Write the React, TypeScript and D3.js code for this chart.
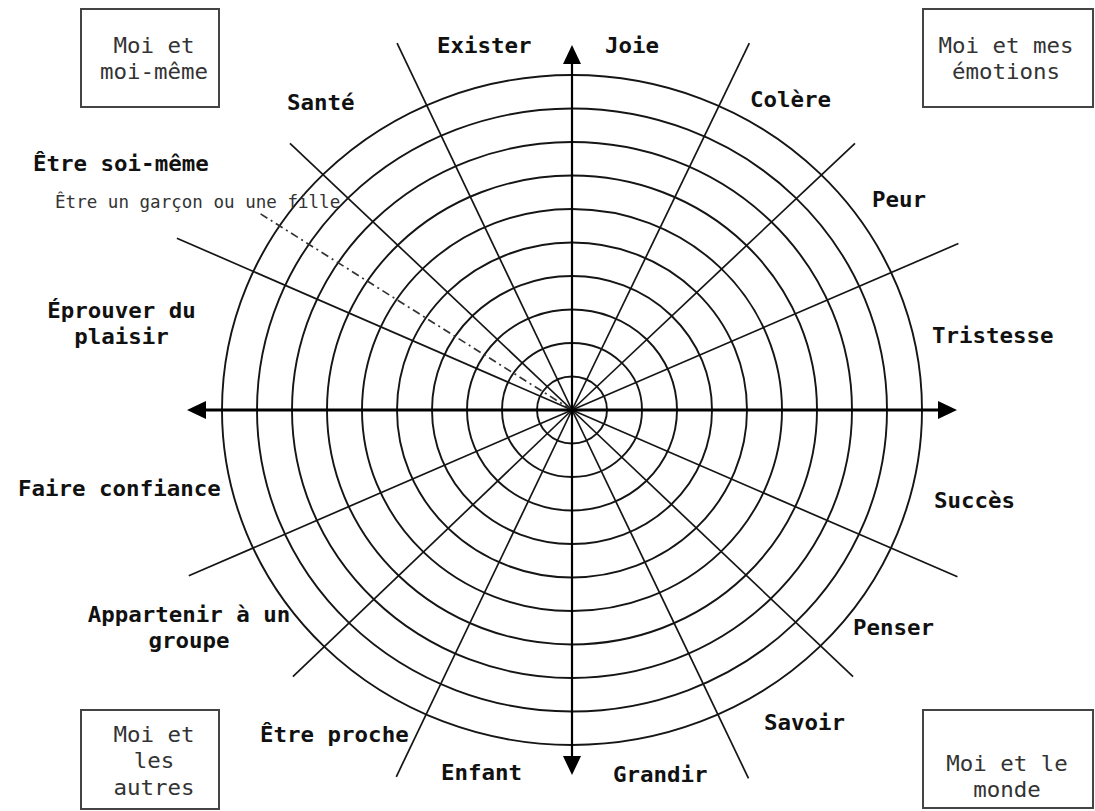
import React from 'react';
import * as d3 from 'd3';

// rings of the wheel (level units)
const levels = [1, 2, 3, 4, 5, 6, 7, 8, 9, 10];

// spokes drawn from the centre: angle in degrees (counter-clockwise from east), length in levels
const spokeAngles = [23.3, 43.3, 64.2, 115.5, 136.6, 156.5, 203.4, 223.7, 244.4, 295.6, 316.5, 336.6];
const spokeLengths = [12.02, 11.11, 11.64, 11.61, 11.09, 12.31, 11.93, 11.03, 11.62, 11.67, 11.07, 12.0];

// the extra dash-dot spoke
const dashedText = 'Être un garçon ou une fille';
const dashedAngle = 147.8;
const dashedLength = 10.54;

// arrow axes half-length (levels)
const axisLengthX = 11.0;
const axisLengthY = 10.9;

const sectorLabels = [
  ['Joie'], ['Colère'], ['Peur'], ['Tristesse'], ['Succès'], ['Penser'], ['Savoir'], ['Grandir'],
  ['Enfant'], ['Être proche'], ['Appartenir à un', 'groupe'], ['Faire confiance'],
  ['Éprouver du', 'plaisir'], ['Être soi-même'], ['Santé'], ['Exister'],
];

const quadrantTitles = [
  ['Moi et', 'moi-même'],
  ['Moi et mes', 'émotions'],
  ['Moi et', 'les', 'autres'],
  ['Moi et le', 'monde'],
];

// ---- layout (kept apart from the data) ----
const W = 1095;
const H = 811;
const cx = 572;
const cy = 410;
const yRatio = 0.957; // rings are slightly squashed vertically
const stretch = 1.045; // the text is slightly wide too

const labelLayout: [number, number, string][] = [
  [605, 53, 'start'], [750, 107, 'start'], [872, 207, 'start'], [932, 343, 'start'],
  [934, 508, 'start'], [853, 635, 'start'], [764, 730, 'start'], [613, 782, 'start'],
  [441, 780, 'start'], [260, 742, 'start'], [189, 622, 'middle'], [18, 496, 'start'],
  [121.5, 318, 'middle'], [33, 171, 'start'], [287, 110, 'start'], [437, 53, 'start'],
];

const boxLayout = [
  { x: 81, y: 9, w: 138, h: 98, tx: 154, ty: 53 },
  { x: 923, y: 9, w: 170, h: 98, tx: 1006, ty: 53 },
  { x: 81, y: 710, w: 138, h: 99, tx: 154, ty: 742 },
  { x: 923, y: 710, w: 170, h: 98, tx: 1007, ty: 771 },
];

const mono = '"DejaVu Sans Mono", monospace';
const ink = '#151515';

export default function App() {
  const r = d3.scaleLinear().domain([0, 10]).range([0, 350]);
  const px = (a: number, len: number) => cx + r(len) * Math.cos((a * Math.PI) / 180);
  const py = (a: number, len: number) => cy - r(len) * Math.sin((a * Math.PI) / 180);

  const ax = r(axisLengthX);
  const ay = r(axisLengthY) * yRatio;
  const head = 19;
  const half = 9;
  const tri = (pts: [number, number][]) => d3.line()(pts) + 'Z';

  return (
    <svg width={W} height={H} style={{ position: 'fixed', left: 0, top: 0, background: '#fff' }}
      viewBox={`0 0 ${W} ${H}`}>
      <rect width={W} height={H} fill="#fff" />

      {/* rings */}
      {levels.map((l) => (
        <ellipse key={l} cx={cx} cy={cy} rx={r(l)} ry={r(l) * yRatio}
          fill="none" stroke={ink} strokeWidth={1.9} />
      ))}

      {/* spokes */}
      {spokeAngles.map((a, i) => (
        <line key={i} x1={cx} y1={cy} x2={px(a, spokeLengths[i])} y2={py(a, spokeLengths[i])}
          stroke={ink} strokeWidth={1.7} />
      ))}

      {/* dash-dot spoke */}
      <line x1={cx} y1={cy} x2={px(dashedAngle, dashedLength)} y2={py(dashedAngle, dashedLength)}
        stroke="#333" strokeWidth={1.7} strokeDasharray="8 4 2 4" />

      {/* axes with arrows */}
      <line x1={cx - ax + head} y1={cy} x2={cx + ax - head} y2={cy} stroke="#000" strokeWidth={3.2} />
      <line x1={cx} y1={cy - ay + head} x2={cx} y2={cy + ay - head} stroke="#000" strokeWidth={2.2} />
      <path d={tri([[cx - ax, cy], [cx - ax + head, cy - half], [cx - ax + head, cy + half]])} fill="#000" />
      <path d={tri([[cx + ax, cy], [cx + ax - head, cy - half], [cx + ax - head, cy + half]])} fill="#000" />
      <path d={tri([[cx, cy - ay], [cx - half, cy - ay + head], [cx + half, cy - ay + head]])} fill="#000" />
      <path d={tri([[cx, cy + ay], [cx - half, cy + ay - head], [cx + half, cy + ay - head]])} fill="#000" />

      {/* sector labels */}
      {sectorLabels.map((lines, i) => {
        const [x, y, anchor] = labelLayout[i];
        return (
          <text key={i} transform={`translate(${x},${y}) scale(${stretch},1)`} textAnchor={anchor as any}
            fontFamily={mono} fontWeight="bold" fontSize={21.5} fill="#111">
            {lines.map((t, j) => (
              <tspan key={j} x={0} dy={j === 0 ? 0 : 26.5}>{t}</tspan>
            ))}
          </text>
        );
      })}

      {/* dashed spoke label */}
      <text transform={`translate(55,208) scale(${stretch},1)`} fontFamily={mono} fontSize={16.8} fill="#333">
        {dashedText}
      </text>

      {/* quadrant boxes */}
      {quadrantTitles.map((lines, i) => {
        const b = boxLayout[i];
        return (
          <g key={i}>
            <rect x={b.x} y={b.y} width={b.w} height={b.h} fill="#fff" stroke="#444" strokeWidth={2} />
            <text transform={`translate(${b.tx},${b.ty}) scale(${stretch},1)`} textAnchor="middle"
              fontFamily={mono} fontSize={21.5} fill="#333">
              {lines.map((t, j) => (
                <tspan key={j} x={0} dy={j === 0 ? 0 : 26.5}>{t}</tspan>
              ))}
            </text>
          </g>
        );
      })}
    </svg>
  );
}
